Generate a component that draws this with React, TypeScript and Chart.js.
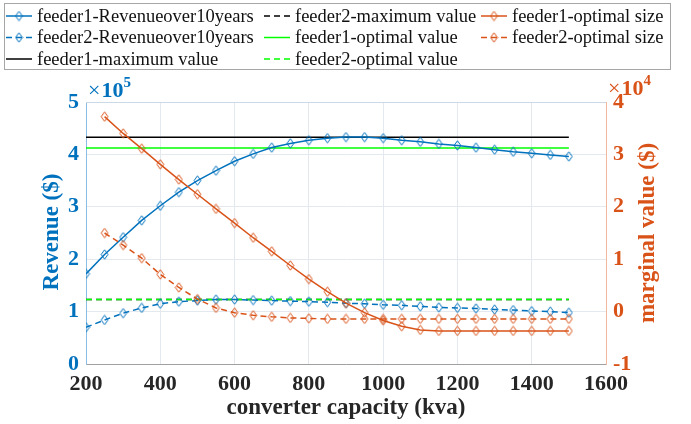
import React, { useEffect, useRef } from 'react';
import { Chart, registerables } from 'chart.js';

Chart.register(...registerables);

// Converter capacity steps (kva)
const capacity = [
  200, 250, 300, 350, 400, 450, 500, 550, 600, 650, 700, 750, 800, 850,
  900, 950, 1000, 1050, 1100, 1150, 1200, 1250, 1300, 1350, 1400, 1450, 1500,
];

// Revenue over 10 years ($), left axis
const revenueFeeder1 = [
  172000, 209000, 242000, 274000, 302000, 328000, 350000, 369000, 387000, 401000,
  413000, 421000, 427000, 431000, 433000, 433000, 431000, 427000, 424000, 420000,
  417000, 413000, 409000, 405000, 402000, 399000, 396000,
];
const revenueFeeder2 = [
  70000, 84000, 97000, 107000, 115000, 119000, 121000, 123000, 123000, 122000,
  121000, 120000, 119000, 118000, 116000, 115000, 113000, 112000, 110000, 108000,
  107000, 106000, 104000, 103000, 101000, 100000, 98000,
];

// Reference levels ($), left axis
const maxValueFeeder1 = 432500;
const optimalValueFeeder1 = 412000;
const maxValueFeeder2 = 123000;
const optimalValueFeeder2 = 123000;
const levelSpan = [200, 1500];

// Marginal value at each size ($), right axis, from 250 kva
const sizeCapacity = capacity.slice(1);
const marginalFeeder1 = [
  37200, 34000, 31100, 28100, 25200, 22400, 19600, 16900, 14100, 11500,
  8800, 6200, 3800, 1600, -200, -1700, -2800, -3500, -3700, -3700,
  -3700, -3700, -3700, -3700, -3700, -3700,
];
const marginalFeeder2 = [
  15000, 12700, 10200, 7100, 4600, 2400, 700, -200, -700, -1000,
  -1200, -1300, -1400, -1400, -1400, -1400, -1400, -1400, -1400, -1400,
  -1400, -1400, -1400, -1400, -1400, -1400,
];

// Axis ranges and tick labels
const xTicks = [200, 400, 600, 800, 1000, 1200, 1400, 1600];
const leftTicks = [0, 1, 2, 3, 4, 5];
const rightTicks = [-1, 0, 1, 2, 3, 4];

const BLUE = '#0072BD';
const ORANGE = '#D95319';
const GREEN = '#00FF00';
const BLACK = '#000000';
const FONT = '"Liberation Serif", "Times New Roman", serif';
const DASH = [6, 4];

function diamond(color: string): HTMLCanvasElement {
  const c = document.createElement('canvas');
  c.width = 9;
  c.height = 11;
  const g = c.getContext('2d')!;
  g.strokeStyle = color;
  g.lineWidth = 1;
  g.beginPath();
  g.moveTo(4.5, 0.8);
  g.lineTo(7.9, 5.5);
  g.lineTo(4.5, 10.2);
  g.lineTo(1.1, 5.5);
  g.closePath();
  g.stroke();
  return c;
}

const pairs = (xs: number[], ys: number[]) => xs.map((x, i) => ({ x, y: ys[i] }));
const level = (v: number) => levelSpan.map((x) => ({ x, y: v }));

// Legend laid out in three columns, filled column by column
const legendPlugin = {
  id: 'columnLegend',
  afterDraw(chart: any) {
    const { ctx } = chart;
    const colX = [6, 264, 481];
    const rowY = [16, 37.5, 59];
    ctx.save();
    ctx.fillStyle = '#ffffff';
    ctx.fillRect(4.5, 3.5, 666, 66);
    ctx.strokeStyle = '#a6a6a6';
    ctx.lineWidth = 1;
    ctx.strokeRect(4.5, 3.5, 666, 66);
    chart.data.datasets.forEach((ds: any, i: number) => {
      const x0 = colX[Math.floor(i / 3)];
      const y = rowY[i % 3];
      ctx.strokeStyle = ds.borderColor;
      ctx.lineWidth = ds.borderWidth;
      ctx.setLineDash(ds.borderDash || []);
      ctx.beginPath();
      ctx.moveTo(x0, y);
      ctx.lineTo(x0 + 26, y);
      ctx.stroke();
      ctx.setLineDash([]);
      if (ds.pointRadius > 0 && ds.pointStyle instanceof HTMLCanvasElement) {
        const img = ds.pointStyle as HTMLCanvasElement;
        ctx.drawImage(img, x0 + 13 - img.width / 2, y - img.height / 2);
      }
      ctx.fillStyle = '#111111';
      ctx.font = `18.5px ${FONT}`;
      ctx.textBaseline = 'middle';
      ctx.textAlign = 'left';
      ctx.fillText(ds.label, x0 + 31, y + 1);
    });
    ctx.restore();
  },
};

// Axis titles, exponent markers and the top frame line
const axisDecor = {
  id: 'axisDecor',
  afterDraw(chart: any) {
    const { ctx, chartArea: a } = chart;
    ctx.save();
    ctx.strokeStyle = '#cbd9e6';
    ctx.lineWidth = 1;
    ctx.beginPath();
    ctx.moveTo(a.left, a.top + 0.5);
    ctx.lineTo(a.right, a.top + 0.5);
    ctx.stroke();

    const title = (text: string, x: number, y: number, color: string, rot: number) => {
      ctx.save();
      ctx.translate(x, y);
      ctx.rotate(rot);
      ctx.fillStyle = color;
      ctx.font = `bold 23px ${FONT}`;
      ctx.textAlign = 'center';
      ctx.textBaseline = 'middle';
      ctx.fillText(text, 0, 0);
      ctx.restore();
    };
    title('converter capacity (kva)', (a.left + a.right) / 2, 408, '#262626', 0);
    title('Revenue ($)', 52, 232, BLUE, -Math.PI / 2);
    title('marginal value ($)', 648, (a.top + a.bottom) / 2, ORANGE, -Math.PI / 2);

    const exponent = (x: number, base: number, exp: string, color: string) => {
      ctx.fillStyle = color;
      ctx.textAlign = 'left';
      ctx.textBaseline = 'alphabetic';
      ctx.font = `22px ${FONT}`;
      ctx.fillText('\u00d7', x, base);
      const w1 = ctx.measureText('\u00d7').width;
      ctx.font = `bold 22px ${FONT}`;
      ctx.fillText('10', x + w1 + 1, base);
      const w2 = ctx.measureText('10').width;
      ctx.font = `bold 15px ${FONT}`;
      ctx.fillText(exp, x + w1 + 1 + w2, base - 10);
    };
    exponent(88, 97, '5', BLUE);
    exponent(608, 95, '4', ORANGE);
    ctx.restore();
  },
};

export default function App() {
  const ref = useRef<HTMLCanvasElement | null>(null);

  useEffect(() => {
    if (!ref.current) return;
    const blueMark = diamond(BLUE);
    const orangeMark = diamond(ORANGE);
    const base = { tension: 0, borderWidth: 1.5, fill: false };
    const marked = (img: HTMLCanvasElement) => ({ pointStyle: img, pointRadius: 4, pointHoverRadius: 4 });
    const tickFont = { family: FONT, size: 22, weight: 'bold' };

    const chart = new Chart(ref.current, {
      type: 'line',
      data: {
        datasets: [
          { ...base, ...marked(blueMark), order: 2, label: 'feeder1-Revenueover10years', data: pairs(capacity, revenueFeeder1), borderColor: BLUE, yAxisID: 'y' },
          { ...base, ...marked(blueMark), order: 2, label: 'feeder2-Revenueover10years', data: pairs(capacity, revenueFeeder2), borderColor: BLUE, borderDash: DASH, yAxisID: 'y' },
          { ...base, pointRadius: 0, order: 4, label: 'feeder1-maximum value', data: level(maxValueFeeder1), borderColor: BLACK, yAxisID: 'y' },
          { ...base, pointRadius: 0, order: 4, label: 'feeder2-maximum value', data: level(maxValueFeeder2), borderColor: BLACK, borderDash: DASH, yAxisID: 'y' },
          { ...base, pointRadius: 0, order: 3, label: 'feeder1-optimal value', data: level(optimalValueFeeder1), borderColor: GREEN, yAxisID: 'y' },
          { ...base, pointRadius: 0, order: 3, label: 'feeder2-optimal value', data: level(optimalValueFeeder2), borderColor: GREEN, borderDash: DASH, yAxisID: 'y' },
          { ...base, ...marked(orangeMark), order: 1, label: 'feeder1-optimal size', data: pairs(sizeCapacity, marginalFeeder1), borderColor: ORANGE, yAxisID: 'y1' },
          { ...base, ...marked(orangeMark), order: 1, label: 'feeder2-optimal size', data: pairs(sizeCapacity, marginalFeeder2), borderColor: ORANGE, borderDash: DASH, yAxisID: 'y1' },
        ] as any,
      },
      options: {
        responsive: false,
        animation: false,
        events: [],
        layout: { padding: { top: 102, left: 0, right: 0, bottom: 0 } },
        plugins: { legend: { display: false }, tooltip: { enabled: false } },
        scales: {
          x: {
            type: 'linear',
            min: xTicks[0],
            max: xTicks[xTicks.length - 1],
            afterBuildTicks: (s: any) => { s.ticks = xTicks.map((v) => ({ value: v })); },
            ticks: { color: '#262626', padding: 7, maxRotation: 0, callback: (v: any) => String(v), font: tickFont },
            grid: { color: '#e4e9ef', drawTicks: false },
            border: { color: '#a0a0a0' },
            afterFit: (s: any) => { s.height = 60; },
          },
          y: {
            position: 'left',
            min: leftTicks[0] * 1e5,
            max: leftTicks[leftTicks.length - 1] * 1e5,
            afterBuildTicks: (s: any) => { s.ticks = leftTicks.map((v) => ({ value: v * 1e5 })); },
            ticks: { color: BLUE, padding: 7, callback: (v: any) => String(Number(v) / 1e5), font: tickFont },
            grid: { color: '#e4e9ef', drawTicks: false },
            border: { color: '#8dbde2' },
            afterFit: (s: any) => { s.width = 86; },
          },
          y1: {
            position: 'right',
            min: rightTicks[0] * 1e4,
            max: rightTicks[rightTicks.length - 1] * 1e4,
            afterBuildTicks: (s: any) => { s.ticks = rightTicks.map((v) => ({ value: v * 1e4 })); },
            ticks: { color: ORANGE, padding: 7, callback: (v: any) => String(Number(v) / 1e4), font: tickFont },
            grid: { display: false, drawTicks: false },
            border: { color: '#f2b89c' },
            afterFit: (s: any) => { s.width = 85; },
          },
        },
      } as any,
      plugins: [legendPlugin, axisDecor],
    });

    return () => chart.destroy();
  }, []);

  return (
    <div style={{ position: 'fixed', left: 0, top: 0, width: 691, height: 424, background: '#fff' }}>
      <canvas ref={ref} width={691} height={424} style={{ display: 'block' }} />
    </div>
  );
}
